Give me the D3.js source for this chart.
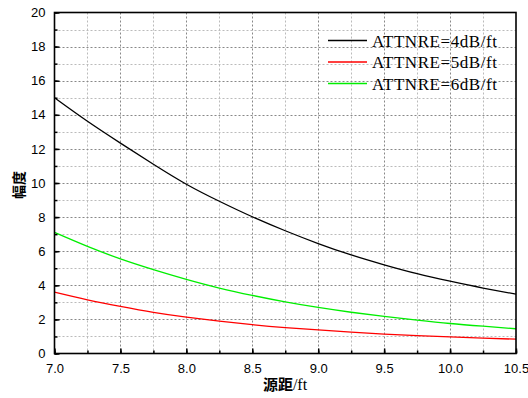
<!DOCTYPE html>
<html>
<head>
<meta charset="utf-8">
<script src="https://cdn.jsdelivr.net/npm/d3@7"></script>
<style>
  body { margin: 0; background: #fff; }
  svg { display: block; }
</style>
</head>
<body>
<script>
var width = 528;
var height = 398;

// source distance (ft)
var distance = [7.0, 7.25, 7.5, 7.75, 8.0, 8.25, 8.5, 8.75, 9.0, 9.25, 9.5, 9.75, 10.0, 10.25, 10.5];
// amplitude per attenuation
var att4 = [15.0, 13.62, 12.34, 11.1, 9.93, 8.93, 8.02, 7.2, 6.45, 5.78, 5.2, 4.68, 4.24, 3.84, 3.48];
var att5 = [3.6, 3.15, 2.76, 2.41, 2.13, 1.9, 1.69, 1.52, 1.38, 1.25, 1.14, 1.05, 0.97, 0.9, 0.84];
var att6 = [7.1, 6.28, 5.55, 4.92, 4.35, 3.84, 3.41, 3.03, 2.7, 2.42, 2.18, 1.96, 1.76, 1.6, 1.45];

var seriesNames = ['ATTNRE=4dB/ft', 'ATTNRE=5dB/ft', 'ATTNRE=6dB/ft'];
var seriesColors = ['#000000', '#ff0000', '#00ee00'];
var seriesValues = [att4, att5, att6];

var xTicks = [7.0, 7.5, 8.0, 8.5, 9.0, 9.5, 10.0, 10.5];
var yTicks = [0, 2, 4, 6, 8, 10, 12, 14, 16, 18, 20];

var margin = {left: 54.5, right: 12, top: 12.5, bottom: 44.5};

var svg = d3.select('body').append('svg')
  .attr('width', width)
  .attr('height', height);

var x = d3.scaleLinear().domain([7.0, 10.5]).range([margin.left, width - margin.right]);
var y = d3.scaleLinear().domain([0, 20]).range([height - margin.bottom, margin.top]);

var xMinor = d3.range(7.0, 10.51, 0.25);
var yMinor = d3.range(0, 20.1, 1);

// grid
var grid = svg.append('g');
grid.selectAll('.vg').data(xMinor.slice(1, -1)).enter().append('line')
  .attr('x1', function(d) { return Math.round(x(d)) + 0.5; })
  .attr('x2', function(d) { return Math.round(x(d)) + 0.5; })
  .attr('y1', y(20)).attr('y2', y(0))
  .attr('stroke', function(d, i) { return i % 2 === 1 ? '#888' : '#bbb'; })
  .attr('stroke-dasharray', '2,2');
grid.selectAll('.hg').data(yMinor.slice(1, -1)).enter().append('line')
  .attr('y1', function(d) { return Math.round(y(d)) + 0.5; })
  .attr('y2', function(d) { return Math.round(y(d)) + 0.5; })
  .attr('x1', x(7.0)).attr('x2', x(10.5))
  .attr('stroke', function(d) { return d % 2 === 0 ? '#888' : '#bbb'; })
  .attr('stroke-dasharray', '2,2');

// curves
var line = d3.line()
  .x(function(d, i) { return x(distance[i]); })
  .y(function(d) { return y(d); })
  .curve(d3.curveNatural);

seriesValues.forEach(function(vals, i) {
  svg.append('path')
    .datum(vals)
    .attr('d', line)
    .attr('fill', 'none')
    .attr('stroke', seriesColors[i])
    .attr('stroke-width', 1.3);
});

// frame
svg.append('rect')
  .attr('x', x(7.0)).attr('y', y(20))
  .attr('width', x(10.5) - x(7.0)).attr('height', y(0) - y(20))
  .attr('fill', 'none').attr('stroke', '#000').attr('stroke-width', 1.6);

// axes with inward ticks
svg.append('g')
  .attr('transform', 'translate(0,' + y(0) + ')')
  .call(d3.axisBottom(x).tickValues(xTicks).tickSize(-5).tickPadding(10)
    .tickFormat(d3.format('.1f')));
svg.append('g')
  .attr('transform', 'translate(0,' + y(0) + ')')
  .call(d3.axisBottom(x).tickValues(xMinor).tickSize(-3).tickFormat(''));

svg.append('g')
  .attr('transform', 'translate(' + x(7.0) + ',0)')
  .call(d3.axisLeft(y).tickValues(yTicks).tickSize(-5).tickPadding(9));
svg.append('g')
  .attr('transform', 'translate(' + x(7.0) + ',0)')
  .call(d3.axisLeft(y).tickValues(yMinor).tickSize(-3).tickFormat(''));

svg.selectAll('.domain').remove();
svg.selectAll('.tick line').attr('stroke', '#000').attr('stroke-width', 1.5);
svg.selectAll('.tick text')
  .attr('font-family', 'Liberation Sans, Arial, sans-serif')
  .attr('font-size', 13)
  .attr('fill', '#000');

// axis titles
svg.append('text')
  .attr('x', 285).attr('y', 390)
  .attr('text-anchor', 'middle')
  .attr('font-size', 15)
  .attr('fill', '#000')
  .html('<tspan font-family="Noto Sans CJK SC" font-weight="bold">源距</tspan><tspan font-family="Liberation Serif, Times New Roman, serif" font-size="16">/ft</tspan>');

svg.append('text')
  .attr('transform', 'translate(24,185) rotate(-90)')
  .attr('text-anchor', 'middle')
  .attr('font-family', 'Noto Sans CJK SC')
  .attr('font-weight', 'bold')
  .attr('font-size', 14)
  .text('幅度');

// legend
var legend = svg.append('g');
seriesNames.forEach(function(name, i) {
  var ly = 40.5 + i * 21.5;
  legend.append('line')
    .attr('x1', 328).attr('x2', 367)
    .attr('y1', ly).attr('y2', ly)
    .attr('stroke', seriesColors[i])
    .attr('stroke-width', 1.3);
  legend.append('text')
    .attr('x', 372).attr('y', ly + 6)
    .attr('font-family', 'Liberation Serif, Times New Roman, serif')
    .attr('font-size', 17)
    .attr('textLength', 125)
    .attr('fill', '#000')
    .text(name);
});
</script>
</body>
</html>
